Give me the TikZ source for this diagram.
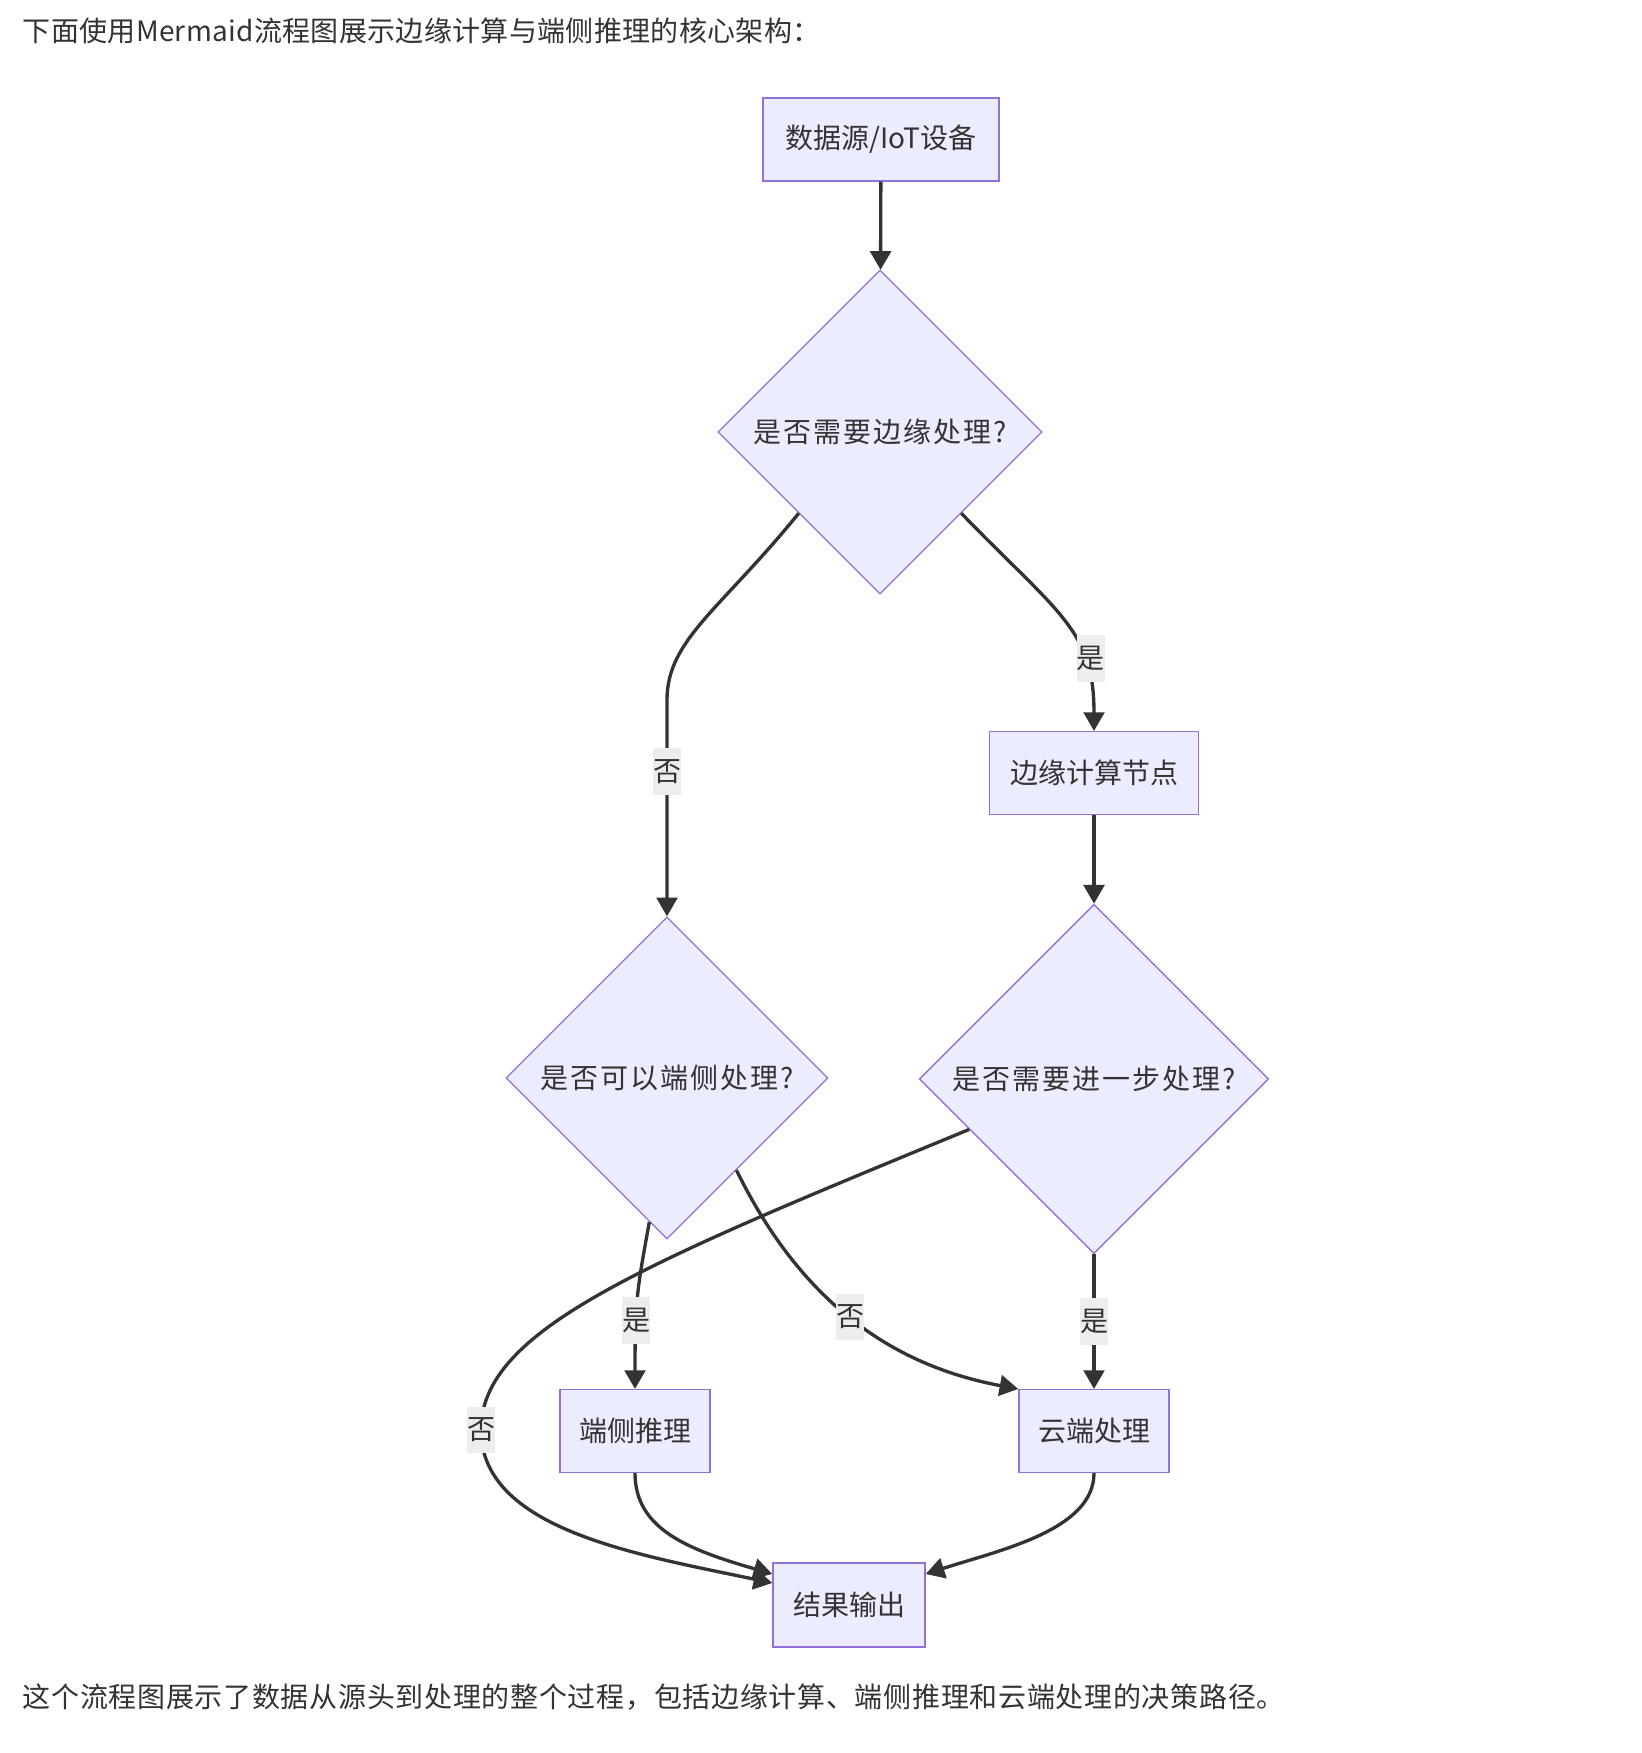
\documentclass[tikz,border=0pt]{standalone}
\usepackage{fontspec}
\setmainfont{Noto Sans CJK SC}
\newfontfamily\diafont[LetterSpace=7]{Noto Sans CJK SC}
\newfontfamily\topfont[LetterSpace=1.2]{Noto Sans CJK SC}
\newfontfamily\endfont[LetterSpace=2.5]{Noto Sans CJK SC}
\usetikzlibrary{shapes.geometric,arrows.meta}

\definecolor{nodefill}{HTML}{ECECFF}
\definecolor{nodeline}{HTML}{9370DB}
\definecolor{ink}{HTML}{333333}
\definecolor{lblfill}{HTML}{EDEDED}

\begin{document}
\begin{tikzpicture}[x=0.75pt,y=-0.75pt,
        box/.style={draw=nodeline,fill=nodefill,line width=1.1pt,inner sep=0pt,
            minimum height=62pt,text=ink,font=\fontsize{21pt}{25pt}\selectfont},
        choice/.style={diamond,aspect=1,draw=nodeline,fill=nodefill,line width=1pt,
            inner sep=0pt,text=ink,font=\diafont\fontsize{21pt}{25pt}\selectfont},
        flow/.style={draw=ink,line width=2.5pt,-{Triangle[length=14pt,width=15.5pt]}},
        lbl/.style={fill=lblfill,text=ink,inner sep=0pt,minimum width=21pt,
            minimum height=35pt,font=\fontsize{21pt}{25pt}\selectfont}]
                        \useasboundingbox (0,0) rectangle (1642,1753);

                        % Text above and below
                        \node[anchor=west,text=ink,font=\topfont\fontsize{21pt}{25pt}\selectfont] (intro) at (18,31) {下面使用Mermaid流程图展示边缘计算与端侧推理的核心架构：};
                        \node[anchor=west,text=ink,font=\endfont\fontsize{21pt}{25pt}\selectfont] (outro) at (18,1697) {这个流程图展示了数据从源头到处理的整个过程，包括边缘计算、端侧推理和云端处理的决策路径。};

                        % Nodes
                        \node[box,minimum width=177pt] (src) at (881,139.5) {数据源/IoT设备};
                        \node[choice,minimum width=243pt,minimum height=243pt] (neededge) at (880,432) {是否需要边缘处理?};
                        \node[box,minimum width=157pt] (edgenode) at (1094,773) {边缘计算节点};
                        \node[choice,minimum width=241.5pt,minimum height=241.5pt] (candevice) at (667,1078) {是否可以端侧处理?};
                        \node[choice,minimum width=262pt,minimum height=262pt] (needmore) at (1094,1079) {是否需要进一步处理?};
                        \node[box,minimum width=112.5pt] (device) at (635,1431) {端侧推理};
                        \node[box,minimum width=112.5pt] (cloud) at (1094,1431) {云端处理};
                        \node[box,minimum width=114pt,minimum height=63pt] (result) at (849,1605) {结果输出};

                        % Top part
                        \draw[flow] (src) -- (neededge);
                        \draw[flow] (neededge.south east) .. controls (1060,615) and (1094,630) .. node[lbl,pos=0.7,xshift=5pt] {是} (edgenode.north);
                        \draw[flow] (neededge.south west) .. controls (720,610) and (667,640) .. (667,700) -- node[lbl,pos=0.33] {否} (candevice.north);
                        \draw[flow] (edgenode) -- (needmore);

                        % Middle part
                        \draw[flow] (candevice.263) .. controls (637,1290) and (635,1300) .. node[lbl,pos=0.66] {是} (device.north);
                        \draw[flow] (candevice.-53) .. controls (800,1300) and (890,1365) .. node[lbl,pos=0.49] {否} (cloud.north west);
                        \draw[flow] (needmore.south) -- node[lbl] {是} (cloud.north);
                        \draw[flow] (needmore.202) .. controls (640,1265) and (481,1330) .. (481,1430) node[lbl] {否}
                            .. controls (481,1530) and (640,1555) .. (result.164);

                        % Bottom part
                        \draw[flow] (device.south) .. controls (635,1530) and (690,1550) .. (result.158);
                        \draw[flow] (cloud.south) .. controls (1094,1530) and (1000,1550) .. (result.22);
                    \end{tikzpicture}
\end{document}
